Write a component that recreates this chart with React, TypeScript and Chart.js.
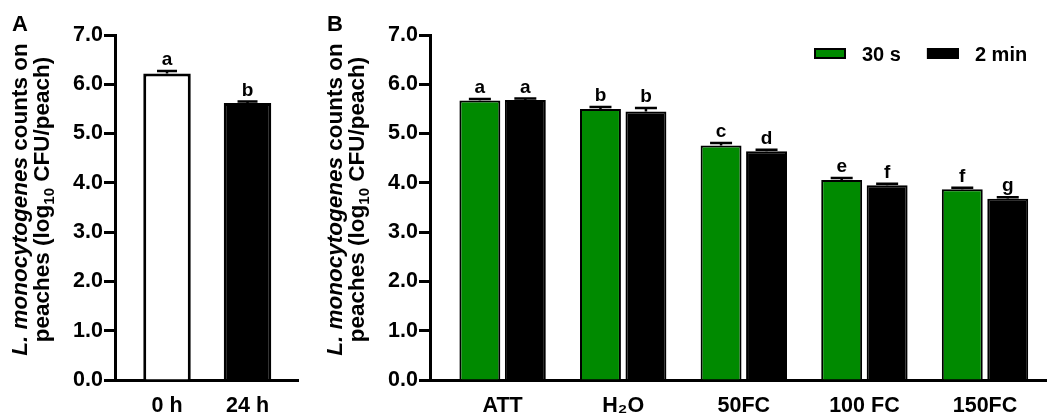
import { useEffect, useRef } from 'react';
import { Chart, registerables } from 'chart.js';

Chart.register(...registerables);

const FONT = "'Liberation Sans', Arial, Helvetica, sans-serif";

// ---------- Panel A data ----------
const timeLabels = ['0 h', '24 h'];
const timeMeans = [6.22, 5.62];
const timeErrors = [0.05, 0.03];
const timeLetters = ['a', 'b'];
const timeFill = ['#ffffff', '#000000'];

// ---------- Panel B data ----------
const treatLabels = ['ATT', 'H₂O', '50FC', '100 FC', '150FC'];
const seriesNames = ['30 s', '2 min'];
const seriesColors = ['#008a00', '#000000'];
const means30s = [5.67, 5.5, 4.76, 4.06, 3.87];
const errors30s = [0.03, 0.04, 0.05, 0.04, 0.03];
const letters30s = ['a', 'b', 'c', 'e', 'f'];
const means2min = [5.68, 5.45, 4.64, 3.95, 3.68];
const errors2min = [0.03, 0.07, 0.03, 0.03, 0.03];
const letters2min = ['a', 'b', 'd', 'f', 'g'];

const yMin = 0;
const yMax = 7;
const yStep = 1;

type Seg = { text: string; font: string; dy: number };

function drawSegs(ctx: CanvasRenderingContext2D, segs: Seg[], cx: number, baseline: number) {
  let total = 0;
  for (const s of segs) {
    ctx.font = s.font;
    total += ctx.measureText(s.text).width;
  }
  let x = cx - total / 2;
  ctx.textAlign = 'left';
  ctx.textBaseline = 'alphabetic';
  for (const s of segs) {
    ctx.font = s.font;
    ctx.fillText(s.text, x, baseline + s.dy);
    x += ctx.measureText(s.text).width;
  }
}

const annotPlugin = {
  id: 'annot',
  afterDatasetsDraw(chart: any, _args: any, opts: any) {
    const ctx: CanvasRenderingContext2D = chart.ctx;
    const yScale = chart.scales.y;
    chart.data.datasets.forEach((ds: any, di: number) => {
      const meta = chart.getDatasetMeta(di);
      const errs: number[] = opts.errors[di];
      const lets: string[] = opts.letters[di];
      meta.data.forEach((el: any, i: number) => {
        const v = ds.data[i].y;
        const top = yScale.getPixelForValue(v + errs[i]);
        const x = el.x;
        ctx.save();
        ctx.strokeStyle = '#000';
        ctx.lineWidth = 2.5;
        ctx.beginPath();
        ctx.moveTo(x, el.y);
        ctx.lineTo(x, top);
        ctx.moveTo(x - opts.capWidth / 2, top);
        ctx.lineTo(x + opts.capWidth / 2, top);
        ctx.stroke();
        ctx.fillStyle = '#000';
        ctx.font = `bold 19px ${FONT}`;
        ctx.textAlign = 'center';
        ctx.textBaseline = 'alphabetic';
        ctx.fillText(lets[i], x, top - 6);
        ctx.restore();
      });
    });
  },
  afterDraw(chart: any, _args: any, opts: any) {
    const ctx: CanvasRenderingContext2D = chart.ctx;
    const area = chart.chartArea;
    ctx.save();
    ctx.fillStyle = '#000';
    // panel letter
    ctx.font = `bold 22px ${FONT}`;
    ctx.textAlign = 'left';
    ctx.textBaseline = 'alphabetic';
    ctx.fillText(opts.panel, opts.panelX, 31);
    // rich y-axis title
    const size = 22.5;
    const normal = `bold ${size}px ${FONT}`;
    const italic = `italic bold ${size}px ${FONT}`;
    const small = `bold 15px ${FONT}`;
    const cy = (area.top + area.bottom) / 2 - 8;
    const line1: Seg[] = [
      { text: 'L. monocytogenes', font: italic, dy: 0 },
      { text: ' counts on', font: normal, dy: 0 },
    ];
    const line2: Seg[] = [
      { text: 'peaches (log', font: normal, dy: 0 },
      { text: '10', font: small, dy: 5 },
      { text: ' CFU/peach)', font: normal, dy: 0 },
    ];
    ctx.save();
    ctx.translate(area.left - opts.line1Off, cy);
    ctx.rotate(-Math.PI / 2);
    drawSegs(ctx, line1, 0, 0);
    ctx.restore();
    ctx.save();
    ctx.translate(area.left - opts.line2Off, cy);
    ctx.rotate(-Math.PI / 2);
    drawSegs(ctx, line2, 0, 0);
    ctx.restore();
    // legend
    if (opts.legend) {
      let bx = area.right - 233;
      const by = 48;
      chart.data.datasets.forEach((ds: any) => {
        ctx.fillStyle = ds.backgroundColor;
        ctx.fillRect(bx, by, 32, 11);
        ctx.strokeStyle = '#000';
        ctx.lineWidth = 2;
        ctx.strokeRect(bx + 1, by + 1, 30, 9);
        ctx.fillStyle = '#000';
        ctx.font = `bold 20px ${FONT}`;
        ctx.textAlign = 'left';
        ctx.textBaseline = 'middle';
        const tx = bx + 48;
        ctx.fillText(ds.label, tx, by + 7);
        bx = tx + ctx.measureText(ds.label).width + 26;
      });
    }
    ctx.restore();
  },
};

function baseOptions(labels: string[], xMin: number, xMax: number, yWidth: number, padRight: number, annot: any) {
  return {
    responsive: false,
    animation: false as const,
    layout: { padding: { left: 0, right: padRight, top: 35, bottom: 0 } },
    plugins: {
      legend: { display: false },
      tooltip: { enabled: false },
      annot,
    },
    scales: {
      x: {
        type: 'linear' as const,
        min: xMin,
        max: xMax,
        offset: false,
        afterBuildTicks: (s: any) => {
          s.ticks = labels.map((_, i) => ({ value: i }));
        },
        afterFit: (s: any) => {
          s.height = 37;
        },
        grid: { display: false, drawTicks: false },
        border: { display: true, width: 3, color: '#000' },
        ticks: {
          autoSkip: false,
          maxRotation: 0,
          minRotation: 0,
          padding: 13,
          color: '#000',
          font: { family: FONT, size: 21.5, weight: 'bold' as const },
          callback: (v: any) => labels[Math.round(Number(v))] ?? '',
        },
      },
      y: {
        min: yMin,
        max: yMax,
        afterFit: (s: any) => {
          s.width = yWidth;
        },
        grid: {
          display: true,
          drawOnChartArea: false,
          drawTicks: true,
          tickLength: 11,
          tickWidth: 3,
          tickColor: '#000',
        },
        border: { display: true, width: 3, color: '#000' },
        ticks: {
          stepSize: yStep,
          padding: 1,
          color: '#000',
          font: { family: FONT, size: 21.5, weight: 'bold' as const },
          callback: (v: any) => Number(v).toFixed(1),
        },
      },
    },
  };
}

export default function App() {
  const refA = useRef<HTMLCanvasElement>(null);
  const refB = useRef<HTMLCanvasElement>(null);

  useEffect(() => {
    const chartA = new Chart(refA.current!, {
      type: 'bar',
      data: {
        datasets: [
          {
            label: 'time',
            data: timeMeans.map((v, i) => ({ x: i, y: v })),
            backgroundColor: timeFill,
            borderColor: '#000',
            borderWidth: 3,
            borderSkipped: 'bottom',
            categoryPercentage: 1,
            barPercentage: 0.59,
          } as any,
        ],
      },
      options: baseOptions(timeLabels, -0.646, 1.627, 115, 12, {
        errors: [timeErrors],
        letters: [timeLetters],
        capWidth: 20,
        panel: 'A',
        panelX: 12,
        line1Off: 88,
        line2Off: 66,
        legend: false,
      }) as any,
      plugins: [annotPlugin],
    });

    const chartB = new Chart(refB.current!, {
      type: 'bar',
      data: {
        datasets: [
          {
            label: seriesNames[0],
            data: means30s.map((v, i) => ({ x: i, y: v })),
            backgroundColor: seriesColors[0],
            borderColor: '#000',
            borderWidth: 2,
            borderSkipped: 'bottom',
            categoryPercentage: 0.754,
            barPercentage: 0.9,
          } as any,
          {
            label: seriesNames[1],
            data: means2min.map((v, i) => ({ x: i, y: v })),
            backgroundColor: seriesColors[1],
            borderColor: '#000',
            borderWidth: 2,
            borderSkipped: 'bottom',
            categoryPercentage: 0.754,
            barPercentage: 0.9,
          } as any,
        ],
      },
      options: baseOptions(treatLabels, -0.602, 4.514, 120, 0, {
        errors: [errors30s, errors2min],
        letters: [letters30s, letters2min],
        capWidth: 22,
        panel: 'B',
        panelX: 17,
        line1Off: 88,
        line2Off: 66,
        legend: true,
      }) as any,
      plugins: [annotPlugin],
    });

    return () => {
      chartA.destroy();
      chartB.destroy();
    };
  }, []);

  return (
    <div style={{ position: 'absolute', left: 0, top: 0, width: 1047, height: 417, background: '#fff' }}>
      <canvas ref={refA} width={310} height={417} style={{ position: 'absolute', left: 0, top: 0 }} />
      <canvas ref={refB} width={737} height={417} style={{ position: 'absolute', left: 310, top: 0 }} />
    </div>
  );
}
